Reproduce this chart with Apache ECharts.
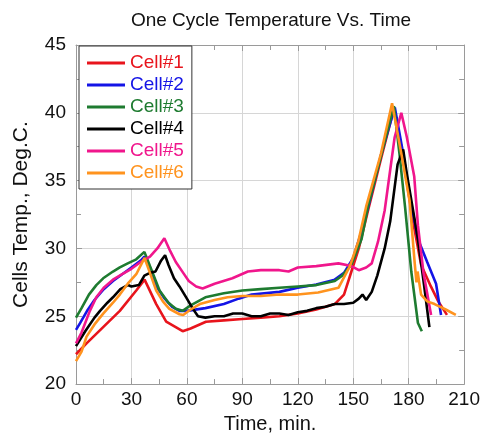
<!DOCTYPE html>
<html>
<head>
<meta charset="utf-8">
<script src="https://cdn.jsdelivr.net/npm/echarts@6/dist/echarts.min.js"></script>
<style>html,body{margin:0;padding:0;background:#fff}#c{width:483px;height:439px}</style>
</head>
<body>
<div id="c"></div>
<script>
var seriesNames = ['Cell#1', 'Cell#2', 'Cell#3', 'Cell#4', 'Cell#5', 'Cell#6'];
var seriesColors = ['#e8141c', '#1414e6', '#1e7b30', '#000000', '#f0168c', '#ff931e'];

var cell1Time = [0, 5.7, 14.7, 23.7, 32.6, 37.1, 43.4, 48.8, 57.7, 62, 70.3, 80, 90, 100, 110, 120, 130, 140, 145, 149, 153, 158, 165, 172, 176, 180, 183, 186.7, 192, 196, 200.7];
var cell1Temp = [22.2, 23.0, 24.2, 25.4, 26.9, 27.7, 25.9, 24.6, 23.9, 24.1, 24.6, 24.7, 24.8, 24.9, 25.0, 25.2, 25.5, 25.9, 26.6, 28.3, 30.0, 32.8, 36.6, 40.3, 37.5, 34.0, 31.5, 28.8, 27.2, 26.1, 25.1];

var cell2Time = [0, 2.2, 6, 10, 15, 20, 25, 30, 35, 37, 40, 44, 48, 52, 56, 60, 70, 80, 88, 95, 110, 120, 130, 140, 145, 150, 155, 158, 165, 172.5, 177, 181, 185, 190, 194.8, 197.5];
var cell2Temp = [24.0, 24.5, 25.4, 26.2, 27.0, 27.6, 28.1, 28.6, 29.1, 29.4, 28.6, 27.1, 26.3, 25.7, 25.4, 25.4, 25.6, 25.9, 26.3, 26.6, 26.8, 27.1, 27.35, 27.7, 28.2, 29.3, 31.5, 33.0, 36.9, 40.4, 37.0, 33.5, 30.7, 29.0, 27.4, 25.1];

var cell3Time = [0, 3, 7, 11, 14.7, 20, 23.7, 28, 32.6, 37, 40, 45.2, 50, 54, 57.7, 62, 70, 80, 90, 100, 110, 120, 130, 140, 144, 149, 154.5, 158, 165, 172, 175, 178, 181.4, 185, 187.1];
var cell3Temp = [24.9, 25.6, 26.6, 27.3, 27.8, 28.3, 28.6, 28.9, 29.2, 29.75, 28.7, 26.9, 26.0, 25.55, 25.4, 25.8, 26.4, 26.7, 26.9, 27.0, 27.1, 27.2, 27.3, 27.6, 28.0, 28.8, 30.7, 33.1, 36.8, 40.5, 37.0, 33.1, 28.3, 24.5, 23.9];

var cell4Time = [0, 5, 10, 13, 17, 20, 24, 28, 30, 34, 37, 40, 43, 46, 48.2, 50, 53, 56, 60, 63, 66, 70, 75, 80, 85, 90, 95, 100, 105, 110, 115, 120, 125, 130, 135, 140, 145, 150, 153, 155, 157, 160, 163, 167, 170, 174, 177, 179, 182, 185, 188.5, 191.2];
var cell4Temp = [22.8, 23.9, 24.9, 25.4, 26.0, 26.4, 27.0, 27.3, 27.2, 27.3, 28.0, 28.2, 28.3, 29.1, 29.5, 28.8, 27.8, 27.2, 26.3, 25.6, 25.0, 24.9, 25.0, 25.0, 25.2, 25.2, 25.0, 25.0, 25.2, 25.2, 25.1, 25.3, 25.4, 25.6, 25.7, 25.9, 25.9, 26.0, 26.3, 26.6, 26.2, 26.8, 28.0, 30.0, 32.0, 36.2, 37.3, 35.5, 33.1, 30.7, 27.1, 24.2];

var cell5Time = [0, 3, 7.5, 11, 15, 20, 25, 30, 35, 40, 44, 47.8, 51, 54, 58, 61, 65, 68.5, 75, 84.6, 93, 100, 110, 115, 120, 130, 142, 149, 153, 157, 160, 163.4, 167, 172.4, 176, 179, 183, 185, 188, 190, 192.1];
var cell5Temp = [23.0, 23.8, 25.4, 26.4, 27.1, 27.7, 28.1, 28.5, 29.0, 29.4, 30.0, 30.75, 29.8, 29.0, 28.2, 27.6, 27.2, 27.05, 27.4, 27.8, 28.3, 28.4, 28.4, 28.3, 28.6, 28.7, 28.9, 28.7, 28.4, 28.6, 28.9, 30.5, 32.8, 38.2, 40.0, 38.2, 35.3, 31.7, 28.2, 26.7, 25.1];

var cell6Time = [0, 3, 5.7, 10, 14.7, 20, 23.7, 28, 32.6, 37.1, 40, 43.4, 47, 50.5, 56, 58, 62, 67, 75, 82, 90, 100, 110, 120, 131, 142, 148.2, 152.7, 157, 165, 171, 176, 180.5, 183.2, 184.2, 184.8, 186.7, 190, 194, 200, 205.5];
var cell6Temp = [21.7, 22.4, 23.5, 24.4, 25.2, 26.0, 26.6, 27.4, 28.1, 29.3, 28.2, 26.9, 26.1, 25.55, 25.15, 25.1, 25.5, 25.9, 26.2, 26.4, 26.5, 26.5, 26.6, 26.6, 26.75, 27.1, 28.7, 30.5, 33.1, 37.0, 40.7, 37.0, 33.5, 29.0, 27.5, 28.3, 26.6, 26.1, 25.9, 25.5, 25.1];

var xTicks = [0, 30, 60, 90, 120, 150, 180, 210];
var yTicks = [20, 25, 30, 35, 40, 45];

var times = [cell1Time, cell2Time, cell3Time, cell4Time, cell5Time, cell6Time];
var temps = [cell1Temp, cell2Temp, cell3Temp, cell4Temp, cell5Temp, cell6Temp];

var FONT = '"Liberation Sans", Arial, sans-serif';
var chart = echarts.init(document.getElementById('c'), null, {renderer: 'canvas'});

function pairs(t, v) { return t.map(function (x, i) { return [x, v[i]]; }); }

var series = seriesNames.map(function (n, i) {
  return {
    name: n, type: 'line', symbol: 'none', showSymbol: false,
    xAxisIndex: 0, yAxisIndex: 0,
    data: pairs(times[i], temps[i]),
    lineStyle: {color: seriesColors[i], width: 2.6},
    itemStyle: {color: seriesColors[i]},
    z: 2 + i * 0.01
  };
});

var axisLineStyle = {color: '#9a9a9a', width: 1};
function mkX(pos, showLabels) {
  return {
    type: 'value', position: pos, min: xTicks[0], max: xTicks[xTicks.length - 1], interval: 30,
    axisLine: {show: true, onZero: false, lineStyle: axisLineStyle},
    axisTick: {show: true, inside: true, length: 6, lineStyle: axisLineStyle},
    minorTick: {show: true, splitNumber: 2, length: 5, lineStyle: axisLineStyle},
    splitLine: {show: showLabels, lineStyle: {color: '#d6d6d6', width: 1}},
    axisLabel: {show: showLabels, color: '#111', fontSize: 19, fontFamily: FONT, margin: 6},
    name: showLabels ? 'Time, min.' : '', nameLocation: 'middle', nameGap: 25,
    nameTextStyle: {color: '#111', fontSize: 20, fontFamily: FONT}
  };
}
function mkY(pos, showLabels) {
  return {
    type: 'value', position: pos, min: yTicks[0], max: yTicks[yTicks.length - 1], interval: 5,
    axisLine: {show: true, onZero: false, lineStyle: axisLineStyle},
    axisTick: {show: true, inside: true, length: 6, lineStyle: axisLineStyle},
    minorTick: {show: true, splitNumber: 2, length: 5, lineStyle: axisLineStyle},
    splitLine: {show: showLabels, lineStyle: {color: '#d6d6d6', width: 1}},
    axisLabel: {show: showLabels, color: '#111', fontSize: 19, fontFamily: FONT, margin: 10},
    name: showLabels ? 'Cells Temp., Deg.C.' : '', nameLocation: 'middle', nameGap: 44,
    nameTextStyle: {color: '#111', fontSize: 21, fontFamily: FONT}
  };
}

chart.setOption({
  animation: false,
  backgroundColor: '#fff',
  grid: {left: 76, right: 16, top: 45, bottom: 47, containLabel: false},
  xAxis: [mkX('bottom', true), mkX('top', false)],
  yAxis: [mkY('left', true), mkY('right', false)],
  legend: {
    orient: 'vertical', left: 79, top: 46,
    padding: [6, 8, 5, 8], itemGap: 0, itemWidth: 38, itemHeight: 3, itemTextGap: 5,
    icon: 'rect',
    backgroundColor: '#fff', borderColor: '#333', borderWidth: 1,
    textStyle: {fontSize: 19, fontFamily: FONT, lineHeight: 22},
    data: seriesNames.map(function (n, i) { return {name: n, icon: 'rect', itemStyle: {color: seriesColors[i]}, textStyle: {color: seriesColors[i]}}; })
  },
  graphic: [{
    type: 'text', x: 271, y: 21,
    style: {text: 'One Cycle Temperature Vs. Time', fill: '#111', font: '19px ' + FONT, textAlign: 'center', textVerticalAlign: 'middle'}
  }],
  series: series
});
</script>
</body>
</html>
